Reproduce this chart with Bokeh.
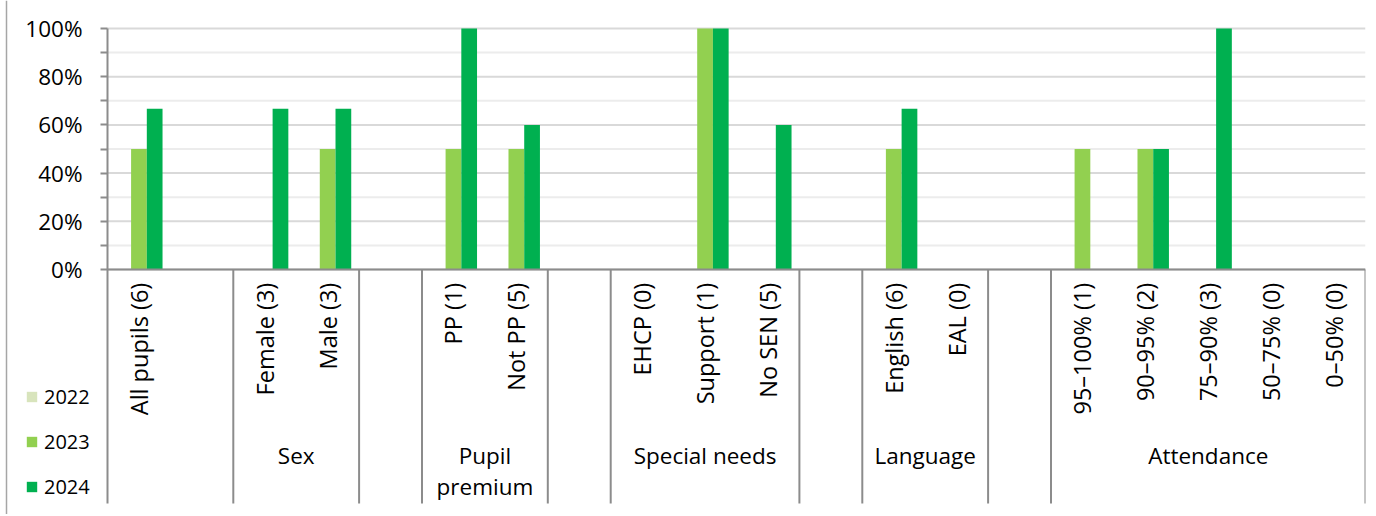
import math
import numpy as np
from bokeh.plotting import figure
from bokeh.models import (Range1d, FixedTicker, PrintfTickFormatter, Legend,
                          LegendItem, ColumnDataSource)
from bokeh.core.properties import value
from bokeh.embed import file_html
from bokeh.resources import INLINE

# ---- data -------------------------------------------------------------
slot_labels = ["All pupils (6)", "", "Female (3)", "Male (3)", "",
               "PP (1)", "Not PP (5)", "", "EHCP (0)", "Support (1)",
               "No SEN (5)", "", "English (6)", "EAL (0)", "",
               "95\u2013100% (1)", "90\u201395% (2)", "75\u201390% (3)",
               "50\u201375% (0)", "0\u201350% (0)"]
group_labels = ["", "Sex", "", "Pupil\npremium", "", "Special needs", "",
                "Language", "", "Attendance"]
group_sizes = [2, 2, 1, 2, 1, 3, 1, 2, 1, 5]

years = ["2022", "2023", "2024"]
pct_2022 = [None, None, None, None, None, None, None, None, None, None,
            None, None, None, None, None, None, None, None, None, None]
pct_2023 = [50, None, 0, 50, None, 50, 50, None, None, 100,
            0, None, 50, None, None, 50, 50, 0, None, None]
pct_2024 = [66.7, None, 66.7, 66.7, None, 100, 60, None, None, 100,
            60, None, 66.7, None, None, 0, 50, 100, None, None]
colors = ["#D8E4BC", "#92D050", "#00B050"]
y_ticks = [0, 20, 40, 60, 80, 100]
y_minor = [10, 30, 50, 70, 90]

# ---- figure -----------------------------------------------------------
FONT = "Open Sans"
AXIS_COL = "#8c8c8c"
n = len(slot_labels)
SLOT_PX = 62.9                 # pixels per category slot
PCT_PX = 2.41                  # pixels per percentage point
x_left = -107.0 / SLOT_PX      # room left of the value axis (legend, tick labels)
y_top = 100 + 28.0 / PCT_PX
y_min = -245.0 / PCT_PX
y_bottom = -234.0 / PCT_PX     # lower end of the category separators

p = figure(width=1374, height=514, x_range=Range1d(x_left, n),
           y_range=Range1d(y_min, y_top), output_backend="svg",
           toolbar_location=None, x_axis_location=None,
           min_border_left=0, min_border_right=9, min_border_top=0,
           min_border_bottom=0)
p.outline_line_color = None
p.background_fill_color = "white"
p.border_fill_color = "white"
for g in p.xgrid:
    g.visible = False
for g in p.ygrid:
    g.visible = False

ax = p.yaxis[0]
ax.fixed_location = 0
ax.bounds = (y_bottom, 100)
ax.ticker = FixedTicker(ticks=y_ticks, minor_ticks=y_minor)
ax.formatter = PrintfTickFormatter(format="%d%%")
ax.major_tick_in = 0
ax.major_tick_out = 7
ax.minor_tick_in = 0
ax.minor_tick_out = 7
ax.axis_line_color = AXIS_COL
ax.axis_line_width = 2
ax.major_tick_line_color = AXIS_COL
ax.major_tick_line_width = 2
ax.minor_tick_line_color = AXIS_COL
ax.minor_tick_line_width = 2
ax.major_label_standoff = 18
ax.major_label_text_font = FONT
ax.major_label_text_font_size = "22.5px"
ax.major_label_text_color = "black"

# chart-area border on the left
p.segment(x0=[-101.0 / SLOT_PX], y0=[y_min], x1=[-101.0 / SLOT_PX],
          y1=[y_top], line_color="#a6a6a6", line_width=1.5)

# ---- gridlines (only over the category area) ---------------------------
p.segment(x0=[0] * len(y_minor), y0=y_minor, x1=[n] * len(y_minor),
          y1=y_minor, line_color="#ececec", line_width=2)
p.segment(x0=[0] * len(y_ticks), y0=y_ticks, x1=[n] * len(y_ticks),
          y1=y_ticks, line_color="#d9d9d9", line_width=2)

# ---- bars -------------------------------------------------------------
xs = [i + 0.5 for i in range(n)]
offsets = [-0.25, 0.0, 0.25]
renderers = []
for year, vals, off, col in zip(years, [pct_2022, pct_2023, pct_2024],
                                offsets, colors):
    src = ColumnDataSource(dict(x=[x + off for x in xs],
                                top=np.array(vals, dtype=float)))
    r = p.vbar(x="x", top="top", bottom=0, width=0.25, source=src,
               fill_color=col, line_color=None)
    renderers.append(r)

# category axis line
p.segment(x0=[0], y0=[0], x1=[n], y1=[0], line_color=AXIS_COL, line_width=2)

# group separators
bounds = np.cumsum([0] + group_sizes)
sep_x = [float(b) for b in bounds[1:]]
p.segment(x0=sep_x, y0=[0] * len(sep_x), x1=sep_x,
          y1=[y_bottom] * len(sep_x), line_color=AXIS_COL, line_width=2)

# category labels (vertical)
p.text(x=xs, y=[-5.5] * n, text=slot_labels, angle=math.pi / 2,
       text_align="right", text_baseline="middle", text_font=value(FONT),
       text_font_size="23.5px", text_color="black")

# group labels
centers = [float(bounds[i]) + group_sizes[i] / 2 for i in range(len(group_sizes))]
p.text(x=centers, y=[-70.9] * len(centers), text=group_labels,
       text_align="center", text_baseline="top", text_font=value(FONT),
       text_font_size="22.5px", text_color="black", text_line_height=1.0)

# legend
legend = Legend(items=[LegendItem(label=y, renderers=[r])
                       for y, r in zip(years, renderers)],
                location=(25, 14), orientation="vertical",
                glyph_width=13, glyph_height=13, label_standoff=6,
                spacing=18, padding=0, margin=0, border_line_color=None,
                background_fill_alpha=0, label_text_font=FONT,
                label_text_font_size="20px", label_height=24,
                label_text_color="black")
p.add_layout(legend)

open("out.html", "w").write(file_html(p, INLINE))
